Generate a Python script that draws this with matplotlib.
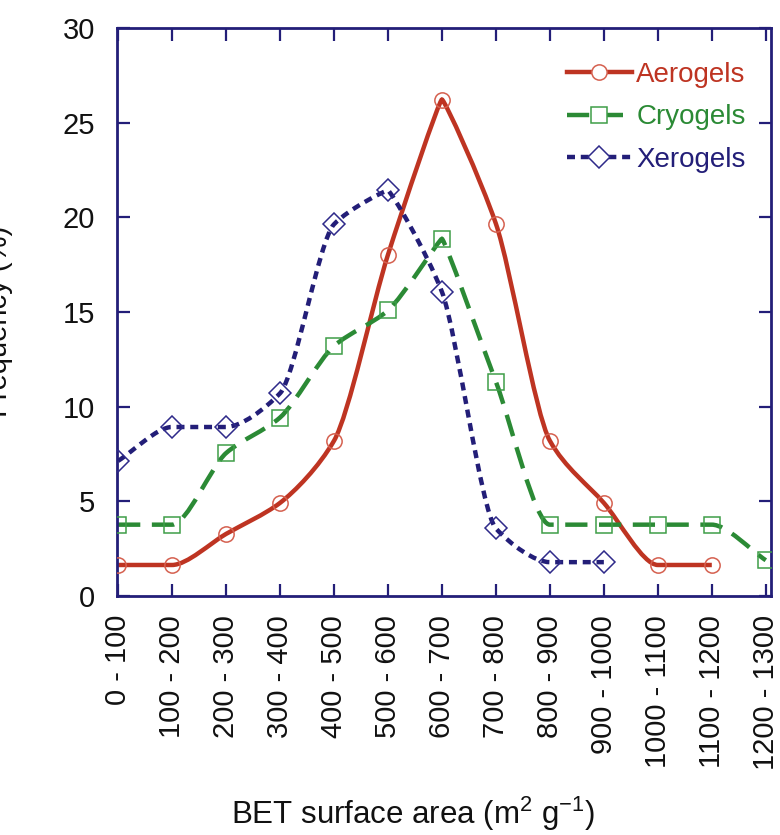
import numpy as np
import matplotlib
matplotlib.use('Agg')
import matplotlib.pyplot as plt
from matplotlib.path import Path
from matplotlib.patches import PathPatch
from matplotlib.lines import Line2D

plt.rcParams['font.family'] = ['Liberation Sans', 'DejaVu Sans']
plt.rcParams['mathtext.default'] = 'regular'

# data
categories = ['0 - 100', '100 - 200', '200 - 300', '300 - 400', '400 - 500',
              '500 - 600', '600 - 700', '700 - 800', '800 - 900', '900 - 1000',
              '1000 - 1100', '1100 - 1200', '1200 - 1300']
aerogels = [1.64, 1.64, 3.28, 4.92, 8.20, 18.03, 26.23, 19.67, 8.20, 4.92, 1.64, 1.64]
cryogels = [3.77, 3.77, 7.55, 9.43, 13.21, 15.09, 18.87, 11.32, 3.77, 3.77, 3.77, 3.77, 1.89]
xerogels = [7.14, 8.93, 8.93, 10.71, 19.64, 21.43, 16.07, 3.57, 1.79, 1.79]

navy = '#231E78'


def smooth_path(y):
    # lightly smoothed line through the points (monotone tangents,
    # nearly pointed at peaks like the original)
    y = np.asarray(y, dtype=float)
    x = np.arange(len(y), dtype=float)
    d = np.diff(y)
    m = np.zeros(len(y))
    h = np.full(len(y), 0.28)
    m[0], m[-1] = d[0], d[-1]
    for i in range(1, len(y) - 1):
        if d[i - 1] * d[i] > 0:
            m[i] = 2.0 / (1.0 / d[i - 1] + 1.0 / d[i])
        elif d[i - 1] * d[i] < 0:
            h[i] = 0.05
    verts = [(x[0], y[0])]
    codes = [Path.MOVETO]
    for i in range(len(y) - 1):
        verts += [(x[i] + h[i], y[i] + m[i] * h[i]),
                  (x[i + 1] - h[i + 1], y[i + 1] - m[i + 1] * h[i + 1]),
                  (x[i + 1], y[i + 1])]
        codes += [Path.CURVE4] * 3
    return Path(verts, codes)


series = [
    ('Aerogels', aerogels, '#BE3422', '#D5604F', 'o', 11, '-'),
    ('Cryogels', cryogels, '#2B8A35', '#3E9E48', 's', 12, (0, (5, 2.6))),
    ('Xerogels', xerogels, navy, '#2E2A8A', 'D', 11.5, (0, (1.8, 1.3))),
]

fig = plt.figure(figsize=(7.8, 8.35), dpi=100)
ax = fig.add_axes([0.150, 0.2862, 0.838, 0.680])

handles = []
for name, vals, lc, mc, mk, ms, ls in series:
    patch = PathPatch(smooth_path(vals), fill=False, edgecolor=lc, lw=3.2,
                      linestyle=ls, zorder=2)
    ax.add_patch(patch)
    ax.plot(range(len(vals)), vals, linestyle='none', marker=mk, ms=ms,
            mfc='none', mec=mc, mew=1.1, zorder=3)
    handles.append(Line2D([], [], color=lc, lw=3.2, linestyle=ls, marker=mk,
                          ms=ms, mfc='white', mec=mc, mew=1.1, label=name))

ax.set_xlim(-0.02, 12.09)
ax.set_ylim(0, 30)
ax.set_yticks(range(0, 31, 5))
ax.set_xticks(range(len(categories)))
ax.set_xticklabels(categories, rotation=90, fontsize=21)
ax.tick_params(axis='y', labelsize=21, pad=16)
ax.tick_params(axis='x', pad=13.5)
ax.tick_params(direction='in', length=9, width=1.6, color=navy,
               top=True, right=True, labelcolor='#111111')
for sp in ax.spines.values():
    sp.set_color(navy)
    sp.set_linewidth(2)

leg = ax.legend(handles=handles, loc='upper right', frameon=False,
                fontsize=20, handlelength=2.35, handletextpad=0.15,
                labelspacing=0.6, labelcolor='linecolor',
                bbox_to_anchor=(1.0, 0.985))

fig.text(413 / 780, 21 / 835, 'BET surface area (m$^2$ g$^{-1}$)',
         fontsize=22.5, ha='center', va='center', color='#111111')
# y label, mostly cut off at the left edge in the original
fig.text(13 / 780, 0.615, 'Frequency (%)', rotation=90, fontsize=21,
         ha='right', va='center', color='#111111')

fig.savefig('out.png', dpi=100)
